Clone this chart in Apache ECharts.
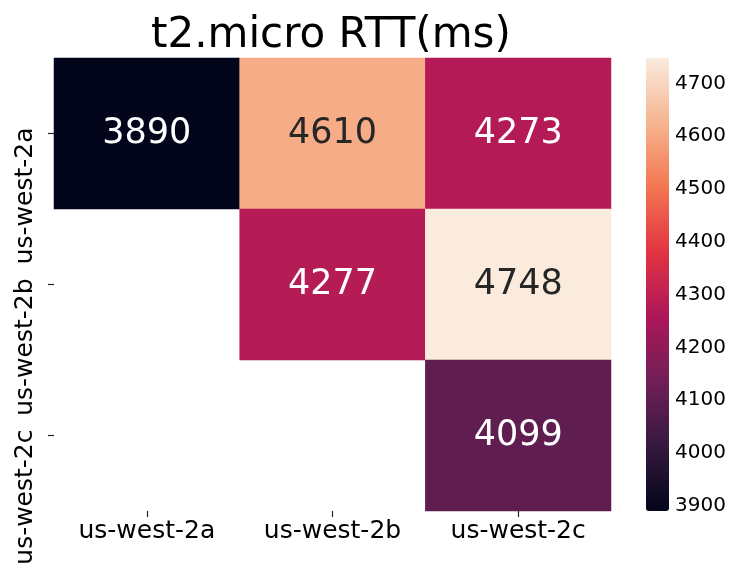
<!DOCTYPE html>
<html>
<head>
<meta charset="utf-8">
<script src="https://cdn.jsdelivr.net/npm/echarts@6/dist/echarts.min.js"></script>
<style>
  html, body { margin: 0; padding: 0; background: #fff; }
  #main { width: 751px; height: 577px; }
</style>
</head>
<body>
<div id="main"></div>
<script>
// 区域名称 (行 = 列)
var zones = ['us-west-2a', 'us-west-2b', 'us-west-2c'];

// 上三角矩阵，每一格: [列, 行, RTT]
var rowA = [[0, 0, 3890], [1, 0, 4610], [2, 0, 4273]];
var rowB = [[1, 1, 4277], [2, 1, 4748]];
var rowC = [[2, 2, 4099]];

// 颜色条的范围和刻度
var vMin = 3890;
var vMax = 4748;
var barTicks = [3900, 4000, 4100, 4200, 4300, 4400, 4500, 4600, 4700];

// rocket 色带
var rocket = ['#03051a', '#35193e', '#701f57', '#ad1759', '#e13342', '#f37651', '#f6b48f', '#faebdd'];

var font = 'DejaVu Sans';

var cells = [];
rowA.concat(rowB, rowC).forEach(function (d) {
    var t = (d[2] - vMin) / (vMax - vMin);
    cells.push({
        value: d,
        label: { color: t > 0.7 ? '#262626' : '#ffffff' }   // 浅色格子用深色字
    });
});

var myChart = echarts.init(document.getElementById('main'));

var option = {
    animation: false,
    title: {
        text: 't2.micro RTT(ms)',
        left: 151,
        top: 15,
        padding: 0,
        textStyle: { fontFamily: font, fontSize: 42, fontWeight: 'normal', color: '#000' }
    },
    grid: [
        { left: 54, top: 58, right: 140, bottom: 66 },
        { left: 646, top: 58, width: 23, height: 453 }
    ],
    xAxis: [
        {
            type: 'category',
            data: zones,
            gridIndex: 0,
            splitArea: { show: false },
            axisLine: { show: false },
            axisTick: { show: true, alignWithLabel: true, length: 6, lineStyle: { color: '#262626', width: 1.2 } },
            axisLabel: { fontFamily: font, fontSize: 25, color: '#000', margin: 8, interval: 0 }
        },
        { type: 'value', gridIndex: 1, show: false, min: 0, max: 1 }
    ],
    yAxis: [
        {
            type: 'category',
            data: zones,
            inverse: true,
            gridIndex: 0,
            axisLine: { show: false },
            axisTick: { show: true, alignWithLabel: true, length: 6, lineStyle: { color: '#262626', width: 1.2 } },
            axisLabel: {
                fontFamily: font, fontSize: 25, color: '#000',
                rotate: 90, margin: 16, interval: 0, hideOverlap: false,
                align: 'right', verticalAlign: 'bottom',
                padding: [0, -6, 0, 0]
            }
        },
        {
            type: 'value',
            gridIndex: 1,
            position: 'right',
            min: vMin,
            max: vMax,
            splitLine: { show: false },
            axisLine: { show: false },
            axisTick: { show: true, length: 6, customValues: barTicks, lineStyle: { color: '#262626', width: 1.2 } },
            axisLabel: {
                fontFamily: font, fontSize: 20, color: '#000', margin: 6,
                customValues: barTicks,
                formatter: function (v) { return String(v); }
            }
        }
    ],
    visualMap: {
        type: 'continuous',
        min: vMin,
        max: vMax,
        calculable: false,
        seriesIndex: 0,
        orient: 'vertical',
        left: 646,
        top: 58,
        padding: 0,
        itemWidth: 23,
        itemHeight: 453,
        text: null,
        inRange: { color: rocket }
    },
    series: [
        {
            type: 'heatmap',
            xAxisIndex: 0,
            yAxisIndex: 0,
            data: cells,
            label: {
                show: true,
                fontFamily: font,
                fontSize: 35
            },
            emphasis: { disabled: true }
        },
        {
            type: 'scatter',
            xAxisIndex: 1,
            yAxisIndex: 1,
            data: []
        }
    ]
};

myChart.setOption(option, true);
</script>
</body>
</html>
